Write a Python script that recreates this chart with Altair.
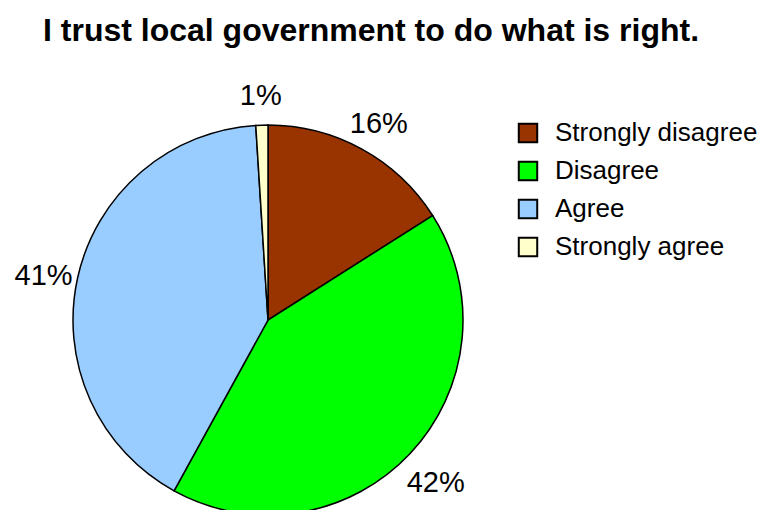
import altair as alt
import pandas as pd

categories = ["Strongly disagree", "Disagree", "Agree", "Strongly agree"]
values = [16, 42, 41, 1]
labels = ["16%", "42%", "41%", "1%"]
colors = ["#993300", "#00FF00", "#99CCFF", "#FFFFCC"]
title_text = "I trust local government to do what is right."

df = pd.DataFrame({"category": categories, "value": values, "label": labels,
                   "order": list(range(len(categories)))})

FONT = "Liberation Sans"
CX, CY, R = 268, 320, 195

base = alt.Chart(df).encode(
    theta=alt.Theta("value:Q", stack=True),
    order=alt.Order("order:Q"),
)

pie = base.mark_arc(stroke="black", strokeWidth=1.5).encode(
    color=alt.Color(
        "category:N",
        scale=alt.Scale(domain=categories, range=colors),
        sort=categories,
        legend=alt.Legend(
            title=None, orient="none", legendX=515, legendY=120,
            symbolType="square", symbolSize=340, symbolStrokeColor="black",
            symbolStrokeWidth=2, labelFont=FONT, labelFontSize=26,
            labelColor="black", labelOffset=14, rowPadding=10, padding=0,
            labelLimit=400,
        ),
    ),
    x=alt.value(CX), y=alt.value(CY), radius=alt.value(R),
)

text = base.mark_text(font=FONT, fontSize=29, color="black", dy=6).encode(
    text="label:N",
    x=alt.value(CX), y=alt.value(CY), radius=alt.value(230),
)

tdf = pd.DataFrame({"t": [title_text]})
title = alt.Chart(tdf).mark_text(font=FONT, fontSize=32, fontWeight="bold",
                                  color="black", align="center",
                                  baseline="alphabetic").encode(
    text="t:N", x=alt.value(371), y=alt.value(41),
)

chart = alt.layer(pie, text, title).properties(
    width=764, height=510,
    autosize=alt.AutoSizeParams(type="none"),
    padding=0,
).configure_view(stroke=None)

chart.save("out.html", embed_options={"renderer": "svg", "actions": False})
